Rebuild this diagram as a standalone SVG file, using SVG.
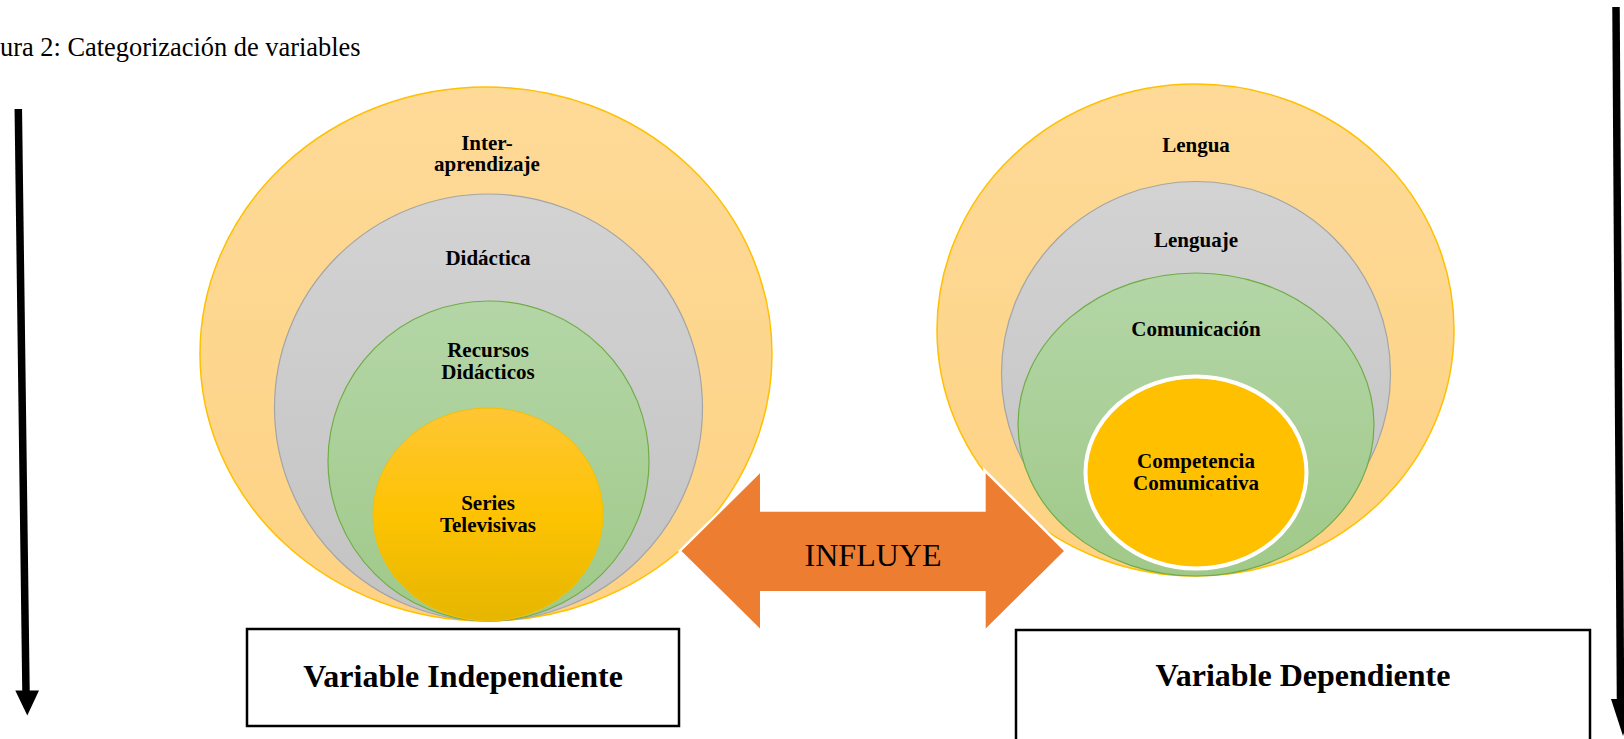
<svg xmlns="http://www.w3.org/2000/svg" width="1624" height="739" viewBox="0 0 1624 739">
<defs>
<linearGradient id="gOr" x1="0" y1="0" x2="0" y2="1"><stop offset="0" stop-color="#FEDA98"/><stop offset="1" stop-color="#FDD283"/></linearGradient>
<linearGradient id="gGr" x1="0" y1="0" x2="0" y2="1"><stop offset="0" stop-color="#D3D3D3"/><stop offset="1" stop-color="#C3C3C3"/></linearGradient>
<linearGradient id="gGn" x1="0" y1="0" x2="0" y2="1"><stop offset="0" stop-color="#B4D6A7"/><stop offset="1" stop-color="#A0C989"/></linearGradient>
<linearGradient id="gYl" x1="0" y1="0" x2="0" y2="1"><stop offset="0" stop-color="#FFC634"/><stop offset="0.5" stop-color="#FDC303"/><stop offset="1" stop-color="#E6B600"/></linearGradient>
<style>
.or{fill:url(#gOr);stroke:#FFC000;stroke-width:1.5}
.gr{fill:url(#gGr);stroke:#A5A5A5;stroke-width:1.2}
.gn{fill:url(#gGn);stroke:#70AD47;stroke-width:1.2}
.yl{fill:url(#gYl);stroke:#F5C000;stroke-width:1}
.yl2{fill:#FFC000;stroke:#FFFFFF;stroke-width:4}
.lbl{font-family:"Liberation Serif","Times New Roman",serif;font-weight:bold;font-size:21px;fill:#000;text-anchor:middle}
.big{font-family:"Liberation Serif","Times New Roman",serif;font-weight:bold;font-size:32px;fill:#000;text-anchor:middle}
.box{fill:#FFFFFF;stroke:#000;stroke-width:2.5}
.blk{stroke:#000;stroke-width:7.5;fill:none}
</style>
</defs>
<rect width="1624" height="739" fill="#FFFFFF"/>
<text x="0" y="56" font-family="'Liberation Serif','Times New Roman',serif" font-size="26.4" fill="#000">ura 2: Categorización de variables</text>

<g id="independiente-circulos">
  <g id="interaprendizaje">
    <ellipse class="or" cx="486" cy="354" rx="286" ry="267"/>
    <text class="lbl" x="487" y="150">Inter-</text>
    <text class="lbl" x="487" y="171">aprendizaje</text>
  </g>
  <g id="didactica">
    <ellipse class="gr" cx="488.5" cy="407.5" rx="214" ry="213.5"/>
    <text class="lbl" x="488" y="265">Didáctica</text>
  </g>
  <g id="recursos-didacticos">
    <ellipse class="gn" cx="488.5" cy="461" rx="160.5" ry="160"/>
    <text class="lbl" x="488" y="357">Recursos</text>
    <text class="lbl" x="488" y="379">Didácticos</text>
  </g>
  <g id="series-televisivas">
    <ellipse class="yl" cx="488" cy="514.5" rx="115" ry="106.5"/>
    <text class="lbl" x="488" y="510">Series</text>
    <text class="lbl" x="488" y="532">Televisivas</text>
  </g>
</g>

<g id="dependiente-circulos">
  <g id="lengua">
    <ellipse class="or" cx="1195.5" cy="330" rx="258.5" ry="246"/>
    <text class="lbl" x="1196" y="152">Lengua</text>
  </g>
  <g id="lenguaje">
    <ellipse class="gr" cx="1196" cy="373.5" rx="194.5" ry="192"/>
    <text class="lbl" x="1196" y="247">Lenguaje</text>
  </g>
  <g id="comunicacion">
    <ellipse class="gn" cx="1196" cy="424.5" rx="178" ry="151.5"/>
    <text class="lbl" x="1196" y="336">Comunicación</text>
  </g>
  <g id="competencia-comunicativa">
    <ellipse class="yl2" cx="1196" cy="472.5" rx="110.5" ry="96"/>
    <text class="lbl" x="1196" y="468">Competencia</text>
    <text class="lbl" x="1196" y="489.5">Comunicativa</text>
  </g>
</g>

<g id="influye">
  <polygon points="681.5,551 760,473.3 760,511.7 985.7,511.7 985.7,473.3 1064,551 985.7,628.5 985.7,591 760,591 760,628.5" fill="#ED7D31" stroke="#FFFFFF" stroke-width="5" stroke-linejoin="miter" paint-order="stroke"/>
  <text x="873" y="566" font-family="'Liberation Serif','Times New Roman',serif" font-size="32" fill="#000" text-anchor="middle">INFLUYE</text>
</g>

<g id="variable-independiente">
  <rect class="box" x="247" y="629" width="432" height="97"/>
  <text class="big" x="463" y="687">Variable Independiente</text>
</g>

<g id="variable-dependiente">
  <rect class="box" x="1016" y="630" width="574" height="130"/>
  <text class="big" x="1303" y="686">Variable Dependiente</text>
</g>

<g id="connectors">
  <line class="blk" x1="18.3" y1="109" x2="26" y2="692"/>
  <polygon points="15.3,690.5 39,690.5 27.3,715.5" fill="#000"/>
  <line class="blk" x1="1616" y1="7" x2="1620.5" y2="700"/>
  <polygon points="1611,699 1634,699 1623,736" fill="#000"/>
</g>
</svg>
